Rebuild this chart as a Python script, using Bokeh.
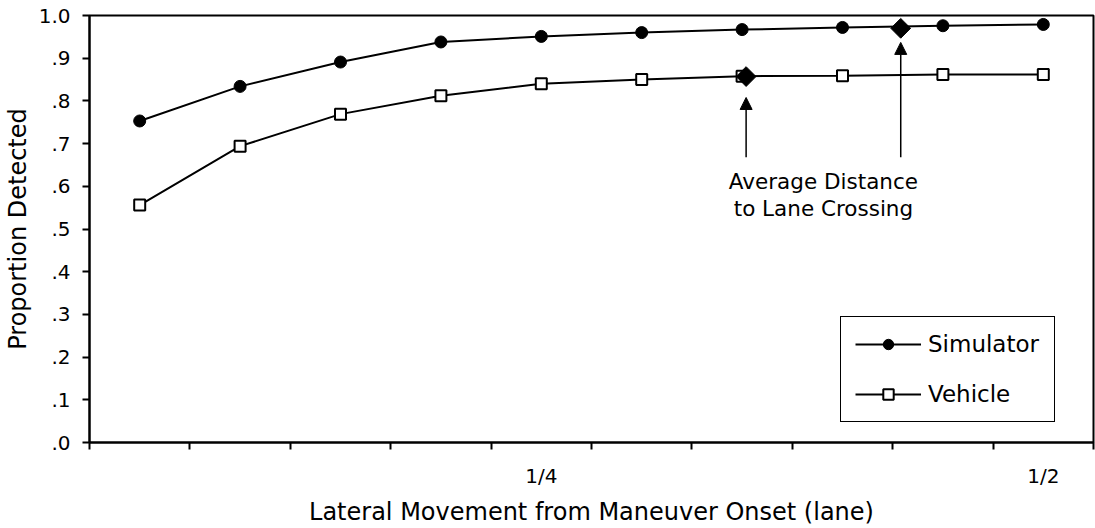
import math
from bokeh.plotting import figure
from bokeh.models import (Range1d, FixedTicker, CustomJSTickFormatter, Legend, LegendItem,
                          Arrow, NormalHead, Label)
from bokeh.embed import file_html
from bokeh.resources import INLINE

# ---- data ----
lateral = [0.05, 0.10, 0.15, 0.20, 0.25, 0.30, 0.35, 0.40, 0.45, 0.50]
simulator = [0.753, 0.834, 0.891, 0.938, 0.951, 0.960, 0.967, 0.972, 0.976, 0.979]
vehicle = [0.556, 0.694, 0.769, 0.812, 0.840, 0.850, 0.858, 0.859, 0.862, 0.862]
avg_x = [0.352, 0.429]          # average distance to lane crossing (vehicle, simulator)
avg_y = [0.857, 0.970]
arrow_base = [0.668, 0.668]
arrow_tip = [0.808, 0.937]
x_tick_vals = [0.25, 0.5]
x_tick_labels = ["1/4", "1/2"]
y_ticks = [0.0, 0.1, 0.2, 0.3, 0.4, 0.5, 0.6, 0.7, 0.8, 0.9, 1.0]
annot_lines = ["Average Distance", "to Lane Crossing"]
annot_y = [0.612, 0.549]
x_title = "Lateral Movement from Maneuver Onset (lane)"
y_title = "Proportion Detected"

FONT = "DejaVu Sans"

step = lateral[1] - lateral[0]
bounds = [v - step / 2 for v in lateral] + [lateral[-1] + step / 2]
x0, x1 = bounds[0], bounds[-1]

p = figure(width=1095, height=528, output_backend="svg", toolbar_location=None,
           x_range=Range1d(x0, x1), y_range=Range1d(0, 1),
           min_border_left=89, min_border_right=2, min_border_top=15, min_border_bottom=85)
p.xgrid.visible = False
p.ygrid.visible = False
p.outline_line_color = "black"
p.outline_line_width = 2
p.outline_line_alpha = 1
p.background_fill_color = "white"
p.border_fill_color = "white"

# y axis
ya = p.yaxis[0]
ya.ticker = FixedTicker(ticks=y_ticks)
ya.formatter = CustomJSTickFormatter(code="return tick.toFixed(1).replace(/^0/, '');")
ya.axis_line_width = 2
ya.major_tick_line_width = 2
ya.major_tick_out = 7
ya.major_tick_in = 0
ya.minor_tick_line_color = None
ya.major_label_standoff = 12
ya.major_label_text_font = FONT
ya.major_label_text_font_size = "20px"
ya.major_label_text_color = "black"
ya.axis_label = y_title
ya.axis_label_text_font = FONT
ya.axis_label_text_font_size = "24px"
ya.axis_label_text_font_style = "normal"
ya.axis_label_text_color = "black"
ya.axis_label_standoff = 4

# x axis
xa = p.xaxis[0]
xa.ticker = FixedTicker(ticks=x_tick_vals, minor_ticks=bounds)
xa.formatter = CustomJSTickFormatter(args=dict(vals=x_tick_vals, labs=x_tick_labels),
                                     code="const i = vals.indexOf(tick); return i >= 0 ? labs[i] : '';")
xa.axis_line_width = 2
xa.major_tick_line_color = None
xa.major_tick_out = 7
xa.major_tick_in = 0
xa.minor_tick_line_color = "black"
xa.minor_tick_line_width = 2
xa.minor_tick_out = 7
xa.minor_tick_in = 0
xa.major_label_standoff = 14
xa.major_label_text_font = FONT
xa.major_label_text_font_size = "20px"
xa.major_label_text_color = "black"
xa.axis_label = x_title
xa.axis_label_text_font = FONT
xa.axis_label_text_font_size = "24px"
xa.axis_label_text_font_style = "normal"
xa.axis_label_text_color = "black"
xa.axis_label_standoff = 7

# series
sim_line = p.line(lateral, simulator, line_color="black", line_width=2)
sim_pts = p.scatter(lateral, simulator, marker="circle", size=12,
                    fill_color="black", line_color="black")
veh_line = p.line(lateral, vehicle, line_color="black", line_width=2)
veh_pts = p.scatter(lateral, vehicle, marker="square", size=11,
                    fill_color="white", line_color="black", line_width=2)
p.scatter(avg_x, avg_y, marker="square", angle=math.pi / 4, size=14,
          fill_color="black", line_color="black")

for xv, y0, y1 in zip(avg_x, arrow_base, arrow_tip):
    p.add_layout(Arrow(end=NormalHead(size=12, fill_color="black", line_color="black"),
                       x_start=xv, y_start=y0, x_end=xv, y_end=y1,
                       line_color="black", line_width=1.5))

mid_x = sum(avg_x) / len(avg_x)
for txt, yv in zip(annot_lines, annot_y):
    p.add_layout(Label(x=mid_x, y=yv, text=txt, text_align="center", text_baseline="middle",
                       text_font=FONT, text_font_size="21.5px", text_color="black"))

legend = Legend(items=[LegendItem(label="Simulator", renderers=[sim_line, sim_pts]),
                       LegendItem(label="Vehicle", renderers=[veh_line, veh_pts])],
                location=(751, 20))
legend.border_line_color = "black"
legend.border_line_alpha = 1
legend.border_line_width = 1.5
legend.padding = 14
legend.spacing = 24
legend.margin = 0
legend.glyph_width = 66
legend.glyph_height = 26
legend.label_height = 26
legend.label_width = 112
legend.label_standoff = 7
legend.label_text_font = FONT
legend.label_text_font_size = "23px"
legend.label_text_color = "black"
legend.background_fill_color = "white"
legend.background_fill_alpha = 1
p.add_layout(legend)

open("out.html", "w").write(file_html(p, INLINE))
